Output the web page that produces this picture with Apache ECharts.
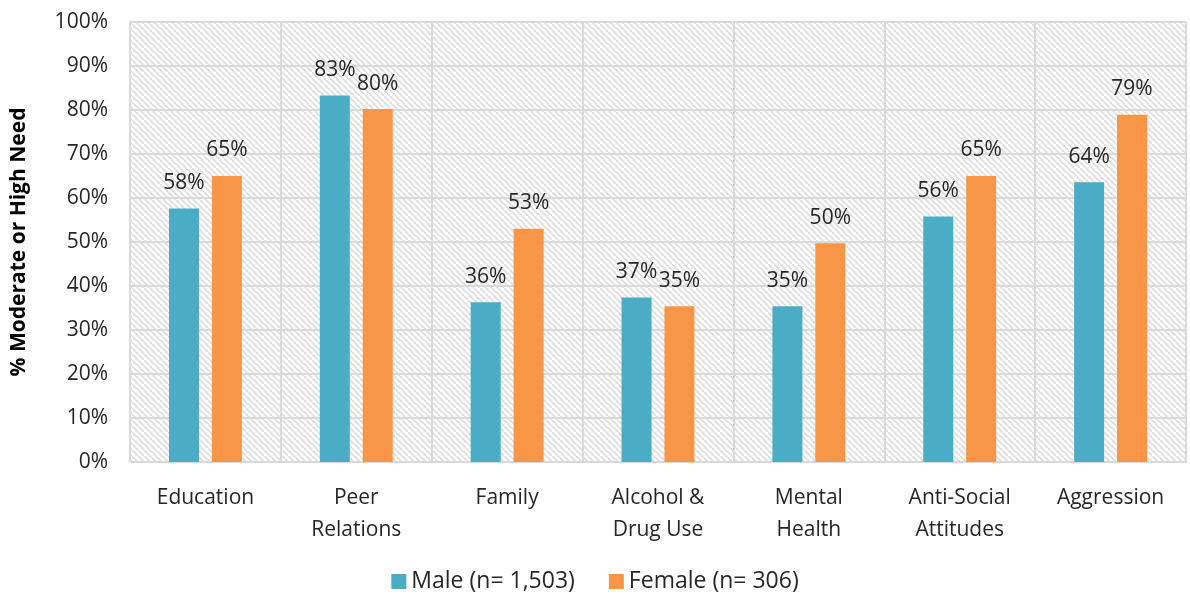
<!DOCTYPE html>
<html><head><meta charset="utf-8">
<script src="https://cdn.jsdelivr.net/npm/echarts@6/dist/echarts.min.js"></script>
<style>html,body{margin:0;padding:0;background:#fff}#c{width:1190px;height:598px}</style>
</head><body><div id="c"></div>
<script>
const categories = ['Education', 'Peer\nRelations', 'Family', 'Alcohol &\nDrug Use', 'Mental\nHealth', 'Anti-Social\nAttitudes', 'Aggression'];
const maleValues = [57.6, 83.3, 36.3, 37.4, 35.4, 55.8, 63.6];
const femaleValues = [65.0, 80.2, 53.0, 35.4, 49.7, 65.0, 78.9];
const seriesNames = ['Male (n= 1,503)', 'Female (n= 306)'];
const yTitle = '% Moderate or High Need';

const tile = document.createElement('canvas');
tile.width = 6; tile.height = 6;
const g = tile.getContext('2d');
g.fillStyle = '#ffffff'; g.fillRect(0, 0, 6, 6);
g.strokeStyle = '#dcdcdc'; g.lineWidth = 1.6;
for (let k = -6; k <= 6; k += 6) {
  g.beginPath(); g.moveTo(k, 0); g.lineTo(k + 6, 6); g.stroke();
}

const font = '"Open Sans", "Noto Sans", sans-serif';
const txt = '#262626';
const chart = echarts.init(document.getElementById('c'));
const labelOpt = {
  show: true, position: 'top', distance: 15,
  formatter: p => Math.round(p.value) + '%',
  fontSize: 21, fontFamily: font, fontWeight: 'normal', color: txt
};
chart.setOption({
  animation: false,
  grid: { left: 130, right: 4, top: 22, bottom: 136, show: true, borderWidth: 0,
    backgroundColor: { image: tile, repeat: 'repeat' } },
  legend: {
    bottom: 0, left: 'center', itemWidth: 15, itemHeight: 15, itemGap: 34,
    icon: 'rect',
    textStyle: { fontSize: 23, fontFamily: font, color: txt },
    data: seriesNames
  },
  xAxis: {
    type: 'category', data: categories,
    axisLine: { show: true, lineStyle: { color: '#d9d9d9', width: 2 } },
    axisTick: { show: false },
    splitLine: { show: true, lineStyle: { color: '#d9d9d9', width: 2 } },
    axisLabel: { fontSize: 21, fontFamily: font, color: txt, margin: 20, lineHeight: 32, interval: 0 }
  },
  yAxis: {
    type: 'value', min: 0, max: 100, interval: 10,
    name: yTitle, nameLocation: 'middle', nameGap: 100, nameRotate: 90,
    nameTextStyle: { fontSize: 21, fontWeight: 'bold', fontFamily: font, color: '#000' },
    axisLine: { show: false }, axisTick: { show: false },
    splitLine: { lineStyle: { color: '#d9d9d9', width: 2 } },
    axisLabel: { formatter: '{value}%', fontSize: 21, fontFamily: font, color: txt, margin: 22 }
  },
  series: [
    { name: seriesNames[0], type: 'bar', data: maleValues, barWidth: 30, barGap: '43%',
      itemStyle: { color: '#4bacc6' }, label: labelOpt },
    { name: seriesNames[1], type: 'bar', data: femaleValues, barWidth: 30,
      itemStyle: { color: '#f79646' }, label: labelOpt }
  ]
});
</script></body></html>
